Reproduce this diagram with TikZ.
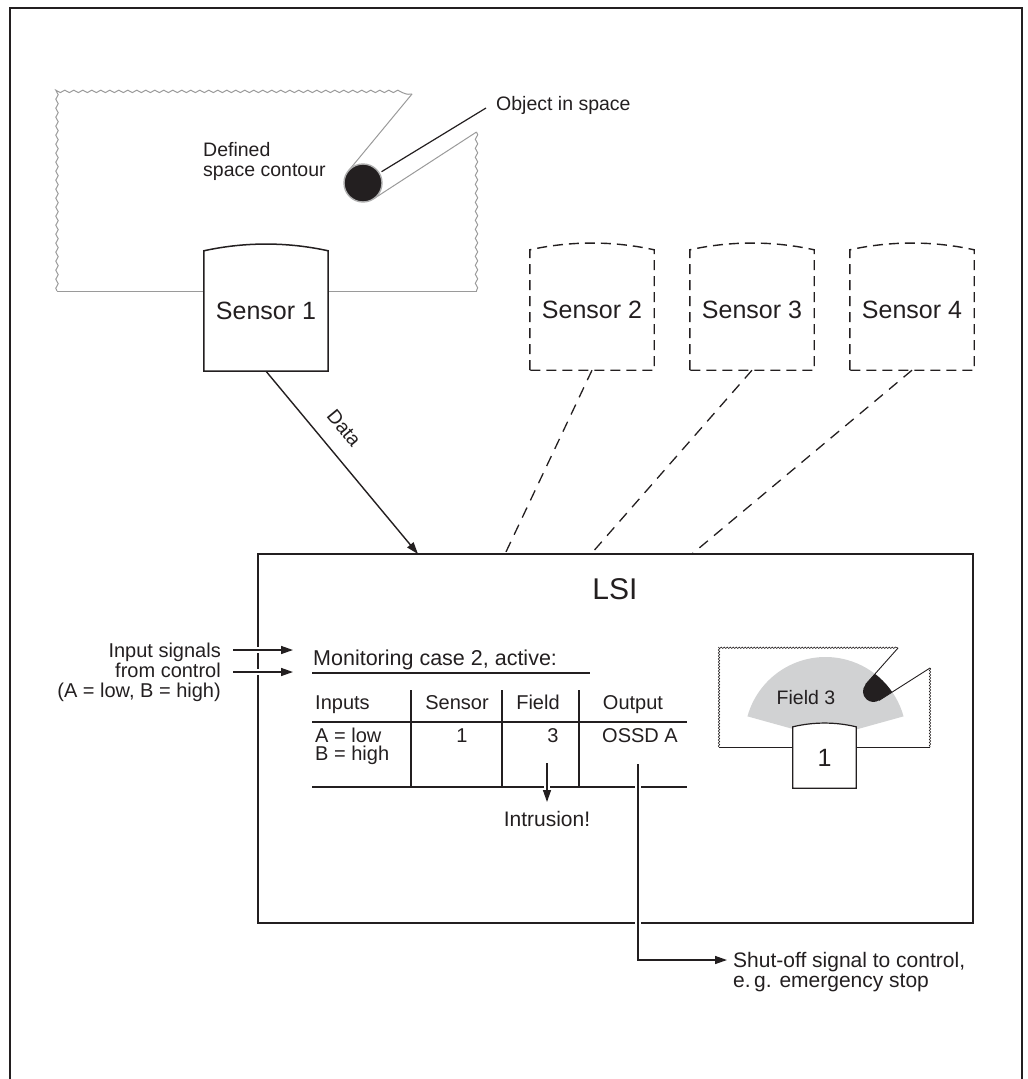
\documentclass[tikz,border=0pt]{standalone}
\usepackage{fontspec}
\setmainfont{Liberation Sans}
\usetikzlibrary{calc,arrows.meta,decorations.pathmorphing}

\definecolor{ink}{HTML}{231F20}
\definecolor{contour}{HTML}{9A9A9A}
\definecolor{fieldgray}{HTML}{D1D2D3}

\tikzset{
  inkline/.style={draw=ink, line width=1.4pt},
  contourline/.style={draw=contour, line width=1pt},
  wavy/.style={decorate, decoration={snake, amplitude=1.2pt, segment length=9pt}},
  fineWavy/.style={draw=ink, line width=0.6pt, decorate, decoration={snake, amplitude=0.7pt, segment length=3pt}},
  sensorbox/.style={minimum width=124pt, minimum height=120pt, inner sep=0pt},
  sensortext/.style={font=\fontsize{25}{30}\selectfont, text=ink, inner sep=0pt},
  solidsensor/.style={draw=ink, line width=1.5pt, fill=white},
  ghostsensor/.style={draw=ink, line width=1.4pt, dash pattern=on 10pt off 6pt},
  ghostlink/.style={draw=ink, line width=1.3pt, dash pattern=on 11pt off 8pt},
  tip/.style={-{Triangle[length=12pt,width=8pt]}},
  halo/.style={preaction={draw=white, line width=6pt, -}},
  note/.style={font=\fontsize{19.5}{20}\selectfont, text=ink, inner sep=0pt},
  cell/.style={font=\fontsize{20}{18}\selectfont, text=ink, inner sep=0pt},
}

% a sensor housing: straight sides, slightly domed top
\newcommand\sensorunit[5]{%
  \node[sensorbox, #3] (#1) at (#2) {};
  \draw[#4] (#1.south west) -- (#1.north west)
    .. controls ($(#1.north west)!0.33!(#1.north east)+(0,-9)$)
            and ($(#1.north west)!0.67!(#1.north east)+(0,-9)$) .. (#1.north east)
    -- (#1.south east) -- cycle;
  \node[sensortext] (#1-text) at (#1.center) {#5};}

\begin{document}
\begin{tikzpicture}[x=1pt,y=-1pt]
\useasboundingbox (0,0) rectangle (1028,1079);

% outer frame, open at the bottom
\draw[inkline] (10,1079) -- (10,8) -- (1022,8) -- (1022,1079);

% ---- defined space contour around sensor 1 ----
\draw[contourline] (204,291) -- (57,291);
\draw[contourline, wavy] (57,291) -- (57,94) -- (412,94);
\draw[contourline] (412,94) -- (348.4,170.9);
\draw[contourline] (373.5,198.9) -- (476.5,132);
\draw[contourline, wavy] (476.5,132) -- (476.5,291);
\draw[contourline] (476.5,291) -- (328,291);

% object inside the space
\node[circle, fill=ink, draw=contour!80, line width=1.4pt, minimum size=38pt, inner sep=0pt] (obj) at (363,183) {};
\coordinate (objend) at (486,108);
\draw[ink, line width=1.2pt, shorten <=2pt] (obj) -- (objend);
\node[note, anchor=base west] (objlbl) at (496,110) {Object in space};
\node[note, anchor=west, align=left] (spacelbl) at (203,161) {Defined\\space contour};

% ---- sensors ----
\sensorunit{s1}{266,311}{}{solidsensor}{Sensor 1}
\sensorunit{s2}{592,310}{}{ghostsensor}{Sensor 2}
\sensorunit{s3}{752,310}{}{ghostsensor}{Sensor 3}
\sensorunit{s4}{912,310}{}{ghostsensor}{Sensor 4}

% ---- LSI unit ----
\node[draw=ink, line width=1.6pt, minimum width=715pt, minimum height=369pt, inner sep=0pt] (lsi) at (615.5,738.5) {};
\node[font=\fontsize{30}{36}\selectfont, text=ink, inner sep=0pt] (lsilbl) at (615,589) {LSI};

\coordinate (lsiin1) at (418,554);
\coordinate (lsiin2) at (505,554);
\coordinate (lsiin3) at (591,554);
\coordinate (lsiin4) at (692,554);

\draw[inkline, tip] (s1.south) -- (lsiin1);
\node[note, rotate=-50.5] (datalbl) at (344,428) {Data};
\draw[ghostlink] (s2.south) -- (lsiin2);
\draw[ghostlink] (s3.south) -- (lsiin3);
\draw[ghostlink] (s4.south) -- (lsiin4);

% input signals
\node[font=\fontsize{20}{20}\selectfont, text=ink, inner sep=0pt, anchor=east, align=right] (insig) at (221,672)
  {Input signals\\from control\\(A = low, B = high)};
\coordinate (sigA0) at (233,650);
\coordinate (sigA1) at (293,650);
\coordinate (sigB0) at (233,672);
\coordinate (sigB1) at (293,672);
\draw[inkline, tip, halo] (sigA0) -- (sigA1);
\draw[inkline, tip, halo] (sigB0) -- (sigB1);

% ---- monitoring table ----
\node[font=\fontsize{21.5}{24}\selectfont, text=ink, inner sep=0pt, anchor=base west] (casehead) at (313,665) {Monitoring case 2, active:};
\draw[inkline] (312,673) -- (590,673);
\draw[inkline] (312,722) -- (687,722);
\draw[inkline] (312,787) -- (687,787);
\draw[inkline] (411,690) -- (411,787);
\draw[inkline] (502,690) -- (502,787);
\draw[inkline] (579,690) -- (579,787);

\node[cell, anchor=base west] (hInputs) at (315,709) {Inputs};
\node[cell, anchor=base] (hSensor) at (457,709) {Sensor};
\node[cell, anchor=base] (hField) at (538,709) {Field};
\node[cell, anchor=base] (hOutput) at (633,709) {Output};

\node[cell, anchor=west, align=left] (vInputs) at (315,746) {A = low\\B = high};
\node[cell, anchor=base] (vSensor) at (462,742) {1};
\node[cell, anchor=base] (vField) at (553,742) {3};
\node[cell, anchor=base] (vOutput) at (640,742) {OSSD A};

% intrusion flag
\coordinate (intr0) at (547,763);
\node[font=\fontsize{21}{22}\selectfont, text=ink, inner sep=0pt, anchor=base] (intrlbl) at (547,826) {Intrusion!};
\draw[inkline, tip, halo] (intr0) -- (547,802);

% shut-off path
\coordinate (ossd0) at (638,764);
\coordinate (stopend) at (727,960);
\draw[inkline, tip, halo] (ossd0) |- (stopend);
\node[font=\fontsize{21}{20}\selectfont, text=ink, inner sep=0pt, anchor=west, align=left] (stoplbl) at (733,972)
  {Shut-off signal to control,\\e.\,g. emergency stop};

% ---- field 3 sketch ----
\fill[fieldgray] (825.5,738) -- ++(195.5:81) arc[start angle=195.5, end angle=344.5, radius=81] -- cycle;
\begin{scope}
  \clip (825.5,738) -- ++(195.5:81) arc[start angle=195.5, end angle=344.5, radius=81] -- cycle;
  \fill[ink] (898,648) -- (865.6,684.5) arc[start angle=221.5, end angle=57.5, radius=10.5] -- (930,668) -- cycle;
\end{scope}
\draw[ink, line width=0.8pt] (793,747) -- (719,747);
\draw[fineWavy] (719,747) -- (719,648) -- (898,648);
\draw[ink, line width=0.9pt] (898,648) -- (865.6,684.5);
\draw[ink, line width=0.9pt] (879.1,700.4) -- (930,668);
\draw[fineWavy] (930,668) -- (930,747);
\draw[ink, line width=0.8pt] (930,747) -- (856,747);
\node[font=\fontsize{19.5}{20}\selectfont, text=ink, inner sep=0pt, anchor=base] (fieldlbl) at (806,704) {Field 3};

\node[inner sep=0pt, minimum width=63pt, minimum height=61pt] (mini) at (824.5,757.5) {};
\draw[draw=ink, line width=1.2pt, fill=white] (mini.south west) -- (mini.north west)
  .. controls ($(mini.north west)!0.33!(mini.north east)+(0,-5)$)
          and ($(mini.north west)!0.67!(mini.north east)+(0,-5)$) .. (mini.north east)
  -- (mini.south east) -- cycle;
\node[font=\fontsize{25}{30}\selectfont, text=ink, inner sep=0pt] (minilbl) at (mini.center) {1};

\end{tikzpicture}
\end{document}
